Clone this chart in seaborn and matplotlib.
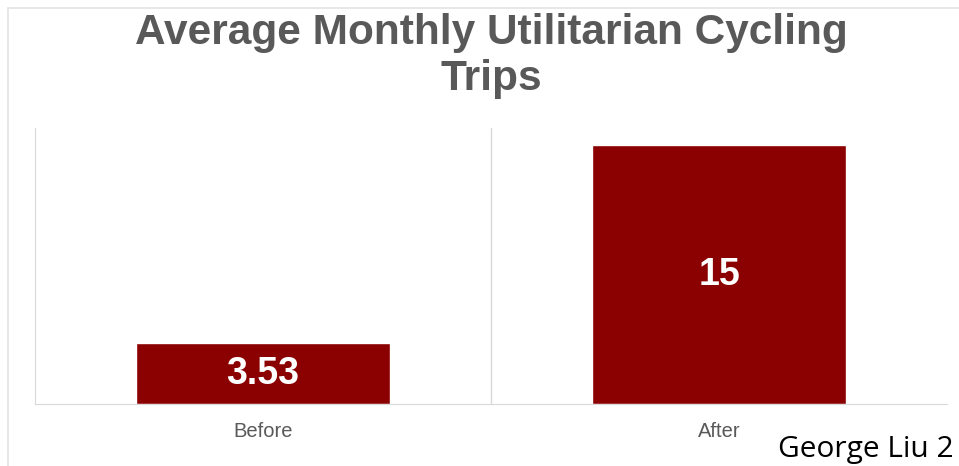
import matplotlib
matplotlib.use('Agg')
import matplotlib.pyplot as plt
from matplotlib.lines import Line2D
import seaborn as sns
import pandas as pd

# chart data
periods = ['Before', 'After']
trips = [3.53, 15]
bar_labels = ['3.53', '15']

df = pd.DataFrame({'period': periods, 'trips': trips})

sns.set_style('white')
plt.rcParams['font.family'] = ['Liberation Sans', 'DejaVu Sans']

fig = plt.figure(figsize=(9.59, 4.66), dpi=100)
ax = fig.add_axes([0.0365, 0.133, 0.951, 0.592])

sns.barplot(data=df, x='period', y='trips', color='#8b0000', width=0.555,
            saturation=1, ax=ax)
ax.set_ylim(0, 16)
ax.set_xlim(-0.5, 1.5)

for cont in ax.containers:
    ax.bar_label(cont, labels=bar_labels, label_type='center', color='white',
                 fontsize=27, fontweight='bold')

ax.set_xlabel('')
ax.set_ylabel('')
ax.set_yticks([])
ax.tick_params(axis='x', length=0, pad=13, labelsize=14.5, labelcolor='#595959')
for s in ['top', 'right']:
    ax.spines[s].set_visible(False)
ax.spines['left'].set_color('#d9d9d9')
ax.spines['bottom'].set_color('#d9d9d9')
ax.axvline(0.5, color='#d9d9d9', lw=1, zorder=0)

fig.suptitle('Average Monthly Utilitarian Cycling\nTrips', x=0.512, y=0.972,
             va='top', fontsize=30.5, fontweight='bold', color='#595959',
             linespacing=1.2)

# outer frame of the slide
fig.add_artist(Line2D([0.0085, 0.0085], [0, 0.983], color='#e3e3e3', lw=1.2))
fig.add_artist(Line2D([0.0085, 1], [0.983, 0.983], color='#e3e3e3', lw=1.2))

fig.text(0.811, 0.02, 'George Liu 2', fontsize=21.5, color='black',
         family=['Open Sans', 'DejaVu Sans'])

fig.savefig('out.png', dpi=100)
